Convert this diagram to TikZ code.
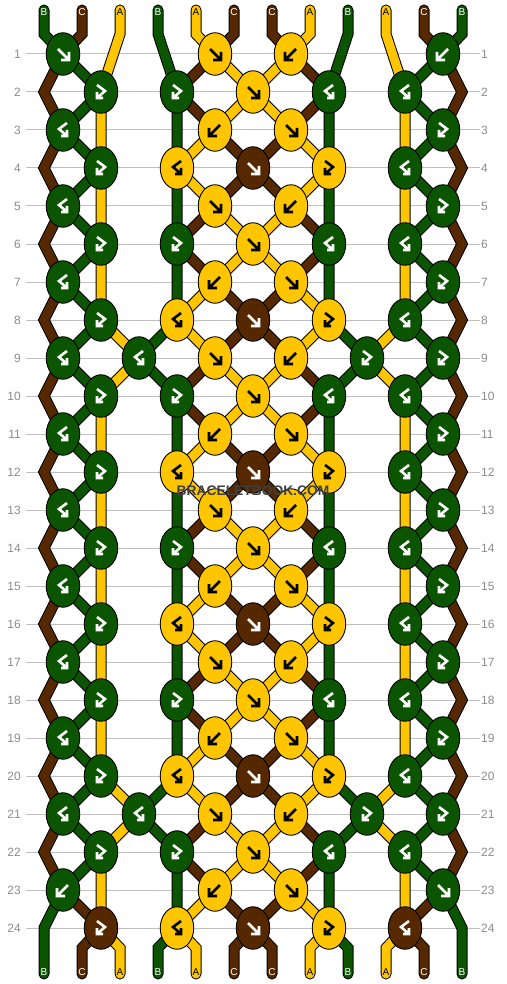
\documentclass[tikz,border=0pt]{standalone}
\usepackage{fontspec}
\setmainfont{Liberation Sans}
\usetikzlibrary{shapes.geometric}
\pgfdeclarelayer{lines}
\pgfdeclarelayer{strout}
\pgfdeclarelayer{strin}
\pgfsetlayers{lines,strout,strin,main}
\definecolor{cG}{RGB}{11,85,0}
\definecolor{cC}{RGB}{85,40,0}
\definecolor{cY}{RGB}{255,198,0}
\definecolor{gridc}{RGB}{192,192,192}
\definecolor{numc}{RGB}{140,140,140}
\definecolor{wmc}{RGB}{64,64,64}
\tikzset{
  knot/.style={ellipse, draw=black, line width=0.9pt, minimum width=33.5pt, minimum height=42.5pt, inner sep=0pt},
  kG/.style={fill=cG}, kY/.style={fill=cY}, kC/.style={fill=cC},
  gG/.style={white}, gY/.style={black}, gC/.style={white},
  glyph/.style={line width=2.6pt, line join=miter},
  pics/arF/.style={code={\draw[glyph] (-5,-5) -- (6,6) (6,-2) -- (6,6) -- (-2,6);}},
  pics/arB/.style={code={\draw[glyph] (5,-5) -- (-6,6) (-6,-2) -- (-6,6) -- (2,6);}},
  pics/arFB/.style={code={\draw[glyph] (-4,-7) -- (4,-1) -- (-4,6) (-4,0) -- (-4,6) -- (2,6);}},
  pics/arBF/.style={code={\draw[glyph] (4,-7) -- (-4,-1) -- (4,6) (4,0) -- (4,6) -- (-2,6);}},
  strandout/.style={line width=11pt, black, line cap=round, line join=miter},
  strandin/.style={line width=9pt, line cap=round, line join=miter},
  endlab/.style={font=\fontsize{10}{10}\selectfont, inner sep=0pt},
  rowlab/.style={font=\fontsize{12}{12}\selectfont, text=numc, inner sep=0pt},
  wm/.style={font=\fontsize{13.8}{13.8}\selectfont\bfseries, inner sep=0pt},
}
\newcommand\K[4]{\node[knot,k#3] (k#1-#2) at ({63+38*(#2-1)},{54+38*(#1-1)}) {};\pic[g#3] at (k#1-#2) {ar#4};}
\newcommand\rowEone[1]{\K{#1}{2}{G}{FB}\K{#1}{4}{G}{FB}\K{#1}{6}{Y}{F}\K{#1}{8}{G}{BF}\K{#1}{10}{G}{BF}}
\newcommand\rowOone[1]{\K{#1}{1}{G}{BF}\K{#1}{5}{Y}{B}\K{#1}{7}{Y}{F}\K{#1}{11}{G}{FB}}
\newcommand\rowEtwo[1]{\K{#1}{2}{G}{FB}\K{#1}{4}{Y}{BF}\K{#1}{6}{C}{F}\K{#1}{8}{Y}{FB}\K{#1}{10}{G}{BF}}
\newcommand\rowOtwo[1]{\K{#1}{1}{G}{BF}\K{#1}{5}{Y}{F}\K{#1}{7}{Y}{B}\K{#1}{11}{G}{FB}}
\newcommand\strand[2]{%
  \begin{pgfonlayer}{strout}\draw[strandout] #2;\end{pgfonlayer}%
  \begin{pgfonlayer}{strin}\draw[strandin,#1] #2;\end{pgfonlayer}}
\begin{document}
\begin{tikzpicture}[x=1pt,y=-1pt]
\useasboundingbox (0,0) rectangle (506,984);
\begin{pgfonlayer}{lines}
  \fill[white] (0,0) rectangle (506,984);
  \foreach \r in {1,...,24} {
    \draw[gridc, line width=1pt] (26,{54+38*(\r-1)}) -- (480,{54+38*(\r-1)});
  }
\end{pgfonlayer}
\foreach \r in {1,...,24} {
  \node[rowlab, anchor=east] (ll\r) at (21,{54+38*(\r-1)}) {\r};
  \node[rowlab, anchor=west] (rl\r) at (481,{54+38*(\r-1)}) {\r};
}
% knots
\K{1}{1}{G}{F}\K{1}{5}{Y}{F}\K{1}{7}{Y}{B}\K{1}{11}{G}{B}
\foreach \r in {2,6,10,14,18,22} {\rowEone{\r}}
\foreach \r in {3,7,11,15,19} {\rowOone{\r}}
\foreach \r in {4,8,12,16,20} {\rowEtwo{\r}}
\foreach \r in {5,9,13,17,21} {\rowOtwo{\r}}
\K{9}{3}{G}{BF}\K{9}{9}{G}{FB}\K{21}{3}{G}{BF}\K{21}{9}{G}{FB}
\K{23}{1}{G}{B}\K{23}{5}{Y}{B}\K{23}{7}{Y}{F}\K{23}{11}{G}{F}
\K{24}{2}{C}{FB}\K{24}{4}{Y}{BF}\K{24}{6}{C}{F}\K{24}{8}{Y}{FB}\K{24}{10}{C}{BF}
% strands
\strand{cG}{(44,10) -- (44,34) -- (k1-1.center) -- (k2-2.center) -- (k3-1.center) -- (k4-2.center) -- (k5-1.center) -- (k6-2.center) -- (k7-1.center) -- (k8-2.center) -- (k9-1.center) -- (k10-2.center) -- (k11-1.center) -- (k12-2.center) -- (k13-1.center) -- (k14-2.center) -- (k15-1.center) -- (k16-2.center) -- (k17-1.center) -- (k18-2.center) -- (k19-1.center) -- (k20-2.center) -- (k21-1.center) -- (k22-2.center) -- (k23-1.center) -- (44,928) -- (44,974)}
\strand{cC}{(82,10) -- (82,34) -- (k1-1.center) -- (44,92) -- (k3-1.center) -- (44,168) -- (k5-1.center) -- (44,244) -- (k7-1.center) -- (44,320) -- (k9-1.center) -- (44,396) -- (k11-1.center) -- (44,472) -- (k13-1.center) -- (44,548) -- (k15-1.center) -- (44,624) -- (k17-1.center) -- (44,700) -- (k19-1.center) -- (44,776) -- (k21-1.center) -- (44,852) -- (k23-1.center) -- (k24-2.center) -- (82,948) -- (82,974)}
\strand{cY}{(120,10) -- (120,34) -- (k2-2.center) -- (k4-2.center) -- (k6-2.center) -- (k8-2.center) -- (k9-3.center) -- (k10-2.center) -- (k12-2.center) -- (k14-2.center) -- (k16-2.center) -- (k18-2.center) -- (k20-2.center) -- (k21-3.center) -- (k22-2.center) -- (k24-2.center) -- (120,948) -- (120,974)}
\strand{cG}{(158,10) -- (158,34) -- (k2-4.center) -- (k4-4.center) -- (k6-4.center) -- (k8-4.center) -- (k9-3.center) -- (k10-4.center) -- (k12-4.center) -- (k14-4.center) -- (k16-4.center) -- (k18-4.center) -- (k20-4.center) -- (k21-3.center) -- (k22-4.center) -- (k24-4.center) -- (158,948) -- (158,974)}
\strand{cY}{(196,10) -- (196,34) -- (k1-5.center) -- (k2-6.center) -- (k3-7.center) -- (k4-8.center) -- (k5-7.center) -- (k6-6.center) -- (k7-5.center) -- (k8-4.center) -- (k9-5.center) -- (k10-6.center) -- (k11-7.center) -- (k12-8.center) -- (k13-7.center) -- (k14-6.center) -- (k15-5.center) -- (k16-4.center) -- (k17-5.center) -- (k18-6.center) -- (k19-7.center) -- (k20-8.center) -- (k21-7.center) -- (k22-6.center) -- (k23-5.center) -- (k24-4.center) -- (196,948) -- (196,974)}
\strand{cC}{(234,10) -- (234,34) -- (k1-5.center) -- (k2-4.center) -- (k3-5.center) -- (k4-6.center) -- (k5-7.center) -- (k6-8.center) -- (k7-7.center) -- (k8-6.center) -- (k9-5.center) -- (k10-4.center) -- (k11-5.center) -- (k12-6.center) -- (k13-7.center) -- (k14-8.center) -- (k15-7.center) -- (k16-6.center) -- (k17-5.center) -- (k18-4.center) -- (k19-5.center) -- (k20-6.center) -- (k21-7.center) -- (k22-8.center) -- (k23-7.center) -- (k24-6.center) -- (234,948) -- (234,974)}
\strand{cC}{(272,10) -- (272,34) -- (k1-7.center) -- (k2-8.center) -- (k3-7.center) -- (k4-6.center) -- (k5-5.center) -- (k6-4.center) -- (k7-5.center) -- (k8-6.center) -- (k9-7.center) -- (k10-8.center) -- (k11-7.center) -- (k12-6.center) -- (k13-5.center) -- (k14-4.center) -- (k15-5.center) -- (k16-6.center) -- (k17-7.center) -- (k18-8.center) -- (k19-7.center) -- (k20-6.center) -- (k21-5.center) -- (k22-4.center) -- (k23-5.center) -- (k24-6.center) -- (272,948) -- (272,974)}
\strand{cY}{(310,10) -- (310,34) -- (k1-7.center) -- (k2-6.center) -- (k3-5.center) -- (k4-4.center) -- (k5-5.center) -- (k6-6.center) -- (k7-7.center) -- (k8-8.center) -- (k9-7.center) -- (k10-6.center) -- (k11-5.center) -- (k12-4.center) -- (k13-5.center) -- (k14-6.center) -- (k15-7.center) -- (k16-8.center) -- (k17-7.center) -- (k18-6.center) -- (k19-5.center) -- (k20-4.center) -- (k21-5.center) -- (k22-6.center) -- (k23-7.center) -- (k24-8.center) -- (310,948) -- (310,974)}
\strand{cG}{(348,10) -- (348,34) -- (k2-8.center) -- (k4-8.center) -- (k6-8.center) -- (k8-8.center) -- (k9-9.center) -- (k10-8.center) -- (k12-8.center) -- (k14-8.center) -- (k16-8.center) -- (k18-8.center) -- (k20-8.center) -- (k21-9.center) -- (k22-8.center) -- (k24-8.center) -- (348,948) -- (348,974)}
\strand{cY}{(386,10) -- (386,34) -- (k2-10.center) -- (k4-10.center) -- (k6-10.center) -- (k8-10.center) -- (k9-9.center) -- (k10-10.center) -- (k12-10.center) -- (k14-10.center) -- (k16-10.center) -- (k18-10.center) -- (k20-10.center) -- (k21-9.center) -- (k22-10.center) -- (k24-10.center) -- (386,948) -- (386,974)}
\strand{cC}{(424,10) -- (424,34) -- (k1-11.center) -- (462,92) -- (k3-11.center) -- (462,168) -- (k5-11.center) -- (462,244) -- (k7-11.center) -- (462,320) -- (k9-11.center) -- (462,396) -- (k11-11.center) -- (462,472) -- (k13-11.center) -- (462,548) -- (k15-11.center) -- (462,624) -- (k17-11.center) -- (462,700) -- (k19-11.center) -- (462,776) -- (k21-11.center) -- (462,852) -- (k23-11.center) -- (k24-10.center) -- (424,948) -- (424,974)}
\strand{cG}{(462,10) -- (462,34) -- (k1-11.center) -- (k2-10.center) -- (k3-11.center) -- (k4-10.center) -- (k5-11.center) -- (k6-10.center) -- (k7-11.center) -- (k8-10.center) -- (k9-11.center) -- (k10-10.center) -- (k11-11.center) -- (k12-10.center) -- (k13-11.center) -- (k14-10.center) -- (k15-11.center) -- (k16-10.center) -- (k17-11.center) -- (k18-10.center) -- (k19-11.center) -- (k20-10.center) -- (k21-11.center) -- (k22-10.center) -- (k23-11.center) -- (462,928) -- (462,974)}
% end labels
\foreach \X/\L/\c [count=\i] in {44/B/white,82/C/white,120/A/black,158/B/white,196/A/black,234/C/white,272/C/white,310/A/black,348/B/white,386/A/black,424/C/white,462/B/white} {
  \node[endlab, text=\c] (top\i) at (\X,12) {\L};
  \node[endlab, text=\c] (bot\i) at (\X,972) {\L};
}
% watermark
\node[wm, text=wmc] (wm) at (253,491) {BRACELETBOOK.COM};
\end{tikzpicture}
\end{document}
